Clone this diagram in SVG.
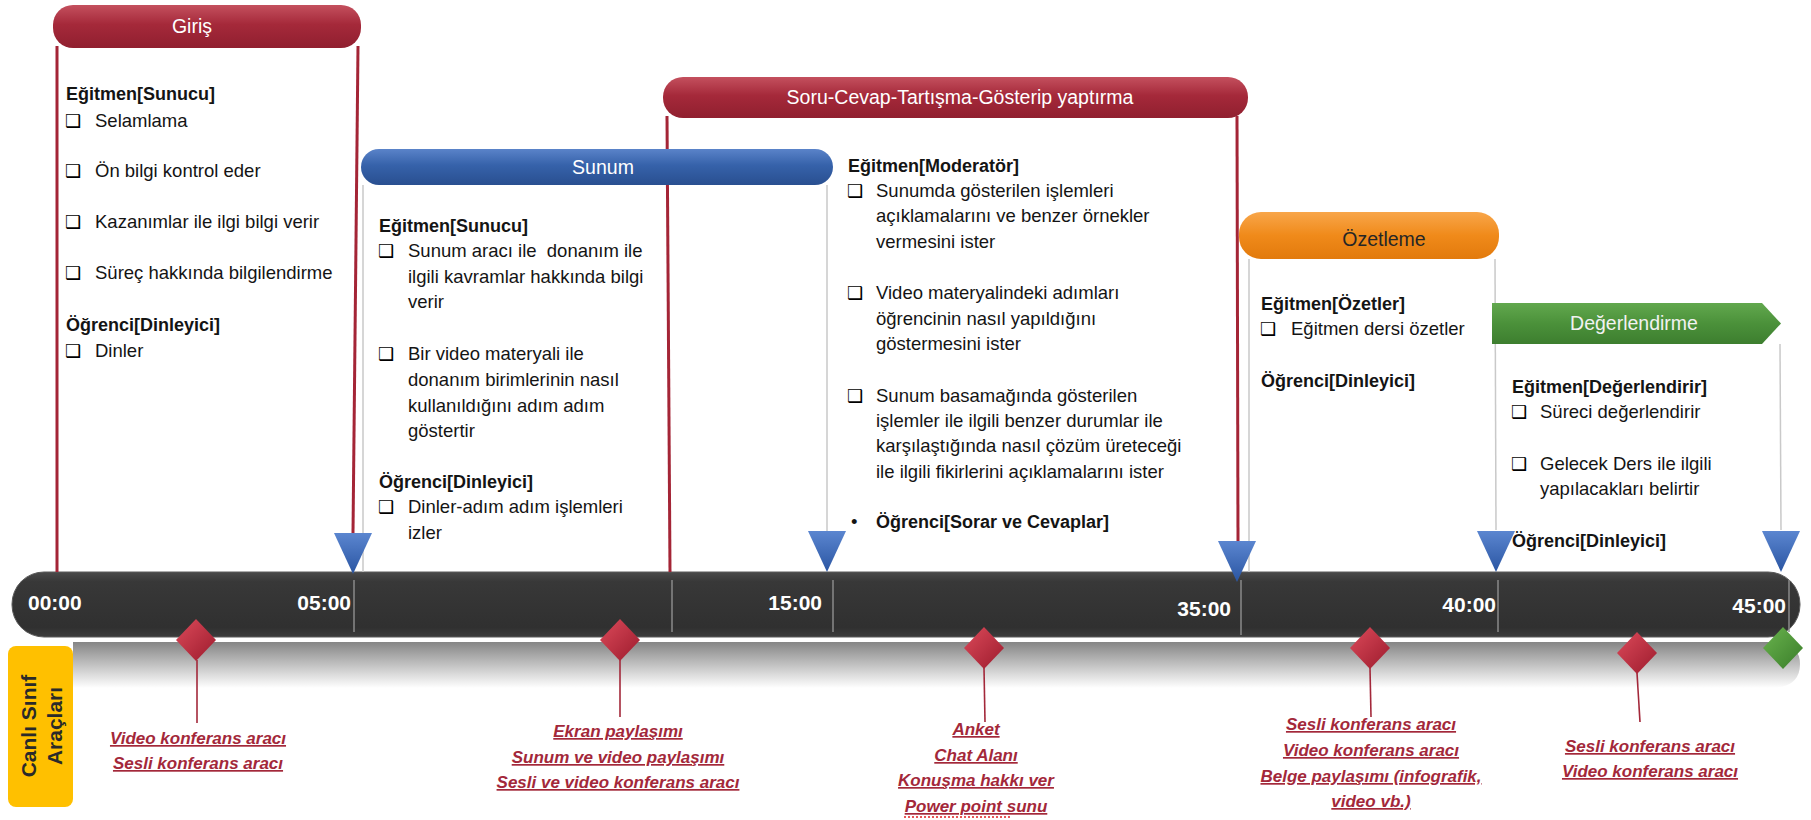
<svg xmlns="http://www.w3.org/2000/svg" xmlns:xlink="http://www.w3.org/1999/xlink" width="1811" height="820" viewBox="0 0 1811 820">
<style>
text{font-family:"Liberation Sans",Arial,sans-serif;}
.b{font-size:18.5px;fill:#141414;}
.h{font-size:18px;font-weight:bold;fill:#141414;}
.cb{font-family:"DejaVu Sans",sans-serif;font-size:18px;font-weight:bold;fill:#000000;}
.hdr{font-size:19.5px;fill:#ffffff;text-anchor:middle;}
.tm{font-size:21px;font-weight:bold;fill:#ffffff;}
.tl{font-size:17px;font-weight:bold;font-style:italic;fill:#a3283a;text-anchor:middle;text-decoration:underline;}
.red{stroke:#a42536;stroke-width:3;fill:none;}
.grey{stroke:#c9c9c9;stroke-width:1.5;fill:none;}
.tick{stroke:#8a8a8a;stroke-width:1.5;}
.stem{stroke:#a3283a;stroke-width:1.6;}
</style>
<defs>
<linearGradient id="gRed" x1="0" y1="0" x2="0" y2="1"><stop offset="0" stop-color="#c4505e"/><stop offset="0.45" stop-color="#a5293a"/><stop offset="1" stop-color="#901f2f"/></linearGradient>
<linearGradient id="gBlue" x1="0" y1="0" x2="0" y2="1"><stop offset="0" stop-color="#5a83c9"/><stop offset="0.45" stop-color="#3662aa"/><stop offset="1" stop-color="#294f90"/></linearGradient>
<linearGradient id="gOr" x1="0" y1="0" x2="0" y2="1"><stop offset="0" stop-color="#f8a64a"/><stop offset="0.5" stop-color="#f08a1a"/><stop offset="1" stop-color="#e27a0c"/></linearGradient>
<linearGradient id="gGr" x1="0" y1="0" x2="0" y2="1"><stop offset="0" stop-color="#62a84e"/><stop offset="0.5" stop-color="#4b913a"/><stop offset="1" stop-color="#3d7e2f"/></linearGradient>
<linearGradient id="gBar" x1="0" y1="0" x2="0" y2="1"><stop offset="0" stop-color="#4a4a4a"/><stop offset="0.15" stop-color="#383838"/><stop offset="0.85" stop-color="#303030"/><stop offset="1" stop-color="#3c3c3c"/></linearGradient>
<linearGradient id="gSh" x1="0" y1="0" x2="0" y2="1"><stop offset="0" stop-color="#858585"/><stop offset="1" stop-color="#ffffff"/></linearGradient>
<linearGradient id="gTri" x1="0" y1="0" x2="0" y2="1"><stop offset="0" stop-color="#5b86d0"/><stop offset="1" stop-color="#2a55a2"/></linearGradient>
<linearGradient id="gDia" x1="0" y1="0" x2="1" y2="1"><stop offset="0" stop-color="#dc4a5a"/><stop offset="1" stop-color="#9c1b2d"/></linearGradient>
<linearGradient id="gDiaG" x1="0" y1="0" x2="1" y2="1"><stop offset="0" stop-color="#6ab44e"/><stop offset="1" stop-color="#3a7d2a"/></linearGradient>
<path id="tri" d="M-19,0 L19,0 L0,41 Z" fill="url(#gTri)"/>
<path id="dia" d="M0,-21 L20,0 L0,21 L-20,0 Z"/>
</defs>
<rect width="1811" height="820" fill="#ffffff"/>

<!-- timeline bar -->
<g id="timeline">
<path d="M73,642 H1770 Q1800,642 1800,664 Q1800,688 1770,688 H73 Z" fill="url(#gSh)"/>
<rect x="12" y="572" width="1788" height="65" rx="32" fill="url(#gBar)" stroke="#5a5a5a" stroke-width="1"/>
<line class="tick" x1="354" y1="580" x2="354" y2="632"/>
<line class="tick" x1="672" y1="580" x2="672" y2="632"/>
<line class="tick" x1="833" y1="580" x2="833" y2="632"/>
<line class="tick" x1="1241" y1="580" x2="1241" y2="635"/>
<line class="tick" x1="1498" y1="580" x2="1498" y2="632"/>
<line class="tick" x1="1789" y1="580" x2="1789" y2="632"/>
<text class="tm" x="28" y="610">00:00</text>
<text class="tm" x="351" y="610" text-anchor="end">05:00</text>
<text class="tm" x="822" y="610" text-anchor="end">15:00</text>
<text class="tm" x="1231" y="616" text-anchor="end">35:00</text>
<text class="tm" x="1496" y="612" text-anchor="end">40:00</text>
<text class="tm" x="1786" y="613" text-anchor="end">45:00</text>
</g>

<!-- connectors -->
<g id="connectors">
<line class="red" x1="57" y1="46" x2="57" y2="572"/>
<line class="red" x1="358" y1="46" x2="353" y2="533"/>
<line class="grey" x1="363" y1="185" x2="363" y2="572"/>
<line class="grey" x1="827" y1="185" x2="827" y2="531"/>
<line class="red" x1="667" y1="116" x2="670" y2="572"/>
<line class="red" x1="1237" y1="116" x2="1238" y2="541"/>
<line class="grey" x1="1249" y1="259" x2="1249" y2="572"/>
<line class="grey" x1="1495" y1="259" x2="1496" y2="530"/>
<line class="grey" x1="1780" y1="344" x2="1781" y2="530"/>
<use xlink:href="#tri" x="353" y="533"/>
<use xlink:href="#tri" x="827" y="531"/>
<use xlink:href="#tri" x="1237" y="541"/>
<use xlink:href="#tri" x="1496" y="531"/>
<use xlink:href="#tri" x="1781" y="531"/>
<line class="stem" x1="197" y1="660" x2="197" y2="723"/>
<line class="stem" x1="620" y1="660" x2="620" y2="717"/>
<line class="stem" x1="984" y1="668" x2="985" y2="722"/>
<line class="stem" x1="1370" y1="668" x2="1371" y2="717"/>
<line class="stem" x1="1637" y1="673" x2="1640" y2="722"/>
</g>

<!-- Giriş -->
<g id="giris">
<rect x="53" y="5" width="308" height="43" rx="20" fill="url(#gRed)"/>
<text class="hdr" x="192" y="33" font-size="20">Giriş</text>
<text class="h" x="66" y="100">Eğitmen[Sunucu]</text>
<text class="cb" x="65" y="127">❑</text><text class="b" x="95" y="127">Selamlama</text>
<text class="cb" x="65" y="177">❑</text><text class="b" x="95" y="177">Ön bilgi kontrol eder</text>
<text class="cb" x="65" y="228">❑</text><text class="b" x="95" y="228">Kazanımlar ile ilgi bilgi verir</text>
<text class="cb" x="65" y="279">❑</text><text class="b" x="95" y="279">Süreç hakkında bilgilendirme</text>
<text class="h" x="66" y="331">Öğrenci[Dinleyici]</text>
<text class="cb" x="65" y="357">❑</text><text class="b" x="95" y="357">Dinler</text>
</g>

<!-- Sunum -->
<g id="sunum">
<rect x="361" y="149" width="472" height="36" rx="18" fill="url(#gBlue)"/>
<text class="hdr" x="603" y="174">Sunum</text>
<text class="h" x="379" y="232">Eğitmen[Sunucu]</text>
<text class="cb" x="378" y="257">❑</text><text class="b" x="408" y="257" style="white-space:pre">Sunum aracı ile  donanım ile</text>
<text class="b" x="408" y="283">ilgili kavramlar hakkında bilgi</text>
<text class="b" x="408" y="308">verir</text>
<text class="cb" x="378" y="360">❑</text><text class="b" x="408" y="360">Bir video materyali ile</text>
<text class="b" x="408" y="386">donanım birimlerinin nasıl</text>
<text class="b" x="408" y="412">kullanıldığını adım adım</text>
<text class="b" x="408" y="437">göstertir</text>
<text class="h" x="379" y="488">Öğrenci[Dinleyici]</text>
<text class="cb" x="378" y="513">❑</text><text class="b" x="408" y="513">Dinler-adım adım işlemleri</text>
<text class="b" x="408" y="539">izler</text>
</g>

<!-- Soru-Cevap -->
<g id="soru-cevap">
<rect x="663" y="77" width="585" height="41" rx="20" fill="url(#gRed)"/>
<text class="hdr" x="960" y="104">Soru-Cevap-Tartışma-Gösterip yaptırma</text>
<text class="h" x="848" y="172">Eğitmen[Moderatör]</text>
<text class="cb" x="847" y="197">❑</text><text class="b" x="876" y="197">Sunumda gösterilen işlemleri</text>
<text class="b" x="876" y="222">açıklamalarını ve benzer örnekler</text>
<text class="b" x="876" y="248">vermesini ister</text>
<text class="cb" x="847" y="299">❑</text><text class="b" x="876" y="299">Video materyalindeki adımları</text>
<text class="b" x="876" y="325">öğrencinin nasıl yapıldığını</text>
<text class="b" x="876" y="350">göstermesini ister</text>
<text class="cb" x="847" y="402">❑</text><text class="b" x="876" y="402">Sunum basamağında gösterilen</text>
<text class="b" x="876" y="427">işlemler ile ilgili benzer durumlar ile</text>
<text class="b" x="876" y="452">karşılaştığında nasıl çözüm üreteceği</text>
<text class="b" x="876" y="478">ile ilgili fikirlerini açıklamalarını ister</text>
<text class="b" x="851" y="528">•</text><text class="h" x="876" y="528">Öğrenci[Sorar ve Cevaplar]</text>
</g>

<!-- Özetleme -->
<g id="ozetleme">
<rect x="1239" y="212" width="260" height="47" rx="22" fill="url(#gOr)"/>
<text class="hdr" x="1384" y="246" font-size="21" style="fill:#262626">Özetleme</text>
<text class="h" x="1261" y="310">Eğitmen[Özetler]</text>
<text class="cb" x="1260" y="335">❑</text><text class="b" x="1291" y="335">Eğitmen dersi özetler</text>
<text class="h" x="1261" y="387">Öğrenci[Dinleyici]</text>
</g>

<!-- Değerlendirme -->
<g id="degerlendirme">
<path d="M1492,303 H1762 L1781,323.5 L1762,344 H1492 Z" fill="url(#gGr)"/>
<text class="hdr" x="1634" y="330" style="fill:#f2f2f2">Değerlendirme</text>
<text class="h" x="1512" y="393">Eğitmen[Değerlendirir]</text>
<text class="cb" x="1511" y="418">❑</text><text class="b" x="1540" y="418">Süreci değerlendirir</text>
<text class="cb" x="1511" y="470">❑</text><text class="b" x="1540" y="470">Gelecek Ders ile ilgili</text>
<text class="b" x="1540" y="495">yapılacakları belirtir</text>
<text class="h" x="1512" y="547">Öğrenci[Dinleyici]</text>
</g>

<!-- Canlı Sınıf Araçları -->
<g id="canli-sinif">
<rect x="8" y="646" width="65" height="161" rx="8" fill="#ffc000"/>
<text transform="translate(36,726) rotate(-90)" text-anchor="middle" font-size="21" font-weight="bold" fill="#2a2a2a">Canlı Sınıf</text>
<text transform="translate(62,726) rotate(-90)" text-anchor="middle" font-size="21" font-weight="bold" fill="#2a2a2a">Araçları</text>
</g>

<!-- tools -->
<g id="tool1">
<use xlink:href="#dia" x="196" y="640" fill="url(#gDia)"/>
<text class="tl" x="198" y="744">Video konferans aracı</text>
<text class="tl" x="198" y="769">Sesli konferans aracı</text>
</g>
<g id="tool2">
<use xlink:href="#dia" x="620" y="640" fill="url(#gDia)"/>
<text class="tl" x="618" y="737">Ekran paylaşımı</text>
<text class="tl" x="618" y="763">Sunum ve video paylaşımı</text>
<text class="tl" x="618" y="788">Sesli ve video konferans aracı</text>
</g>
<g id="tool3">
<use xlink:href="#dia" x="984" y="648" fill="url(#gDia)"/>
<text class="tl" x="976" y="735">Anket</text>
<text class="tl" x="976" y="761">Chat Alanı</text>
<text class="tl" x="976" y="786">Konuşma hakkı ver</text>
<text class="tl" x="976" y="812">Power point sunu</text>
<line x1="904" y1="817" x2="1010" y2="817" stroke="#e02020" stroke-width="1.5" stroke-dasharray="2 2"/>
</g>
<g id="tool4">
<use xlink:href="#dia" x="1370" y="648" fill="url(#gDia)"/>
<text class="tl" x="1371" y="730">Sesli konferans aracı</text>
<text class="tl" x="1371" y="756">Video konferans aracı</text>
<text class="tl" x="1371" y="782">Belge paylaşımı (infografik,</text>
<text class="tl" x="1371" y="807">video vb.)</text>
</g>
<g id="tool5">
<use xlink:href="#dia" x="1637" y="653" fill="url(#gDia)"/>
<text class="tl" x="1650" y="752">Sesli konferans aracı</text>
<text class="tl" x="1650" y="777">Video konferans aracı</text>
</g>
<g id="end-marker">
<use xlink:href="#dia" x="1783" y="648" fill="url(#gDiaG)"/>
</g>
</svg>
